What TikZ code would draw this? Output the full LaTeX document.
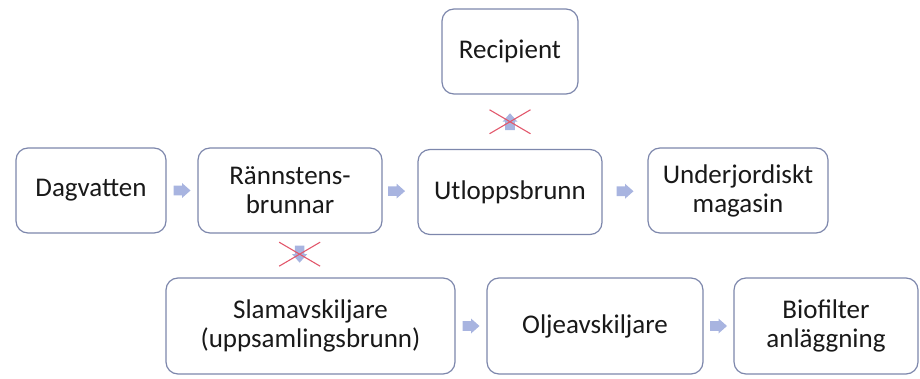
\documentclass[tikz,border=0pt]{standalone}
\usepackage{fontspec}
\setmainfont{Carlito}
\usetikzlibrary{calc}
\definecolor{boxline}{RGB}{125,135,172}
\definecolor{arrowfill}{RGB}{168,180,224}
\definecolor{crossred}{RGB}{226,88,108}
\definecolor{txt}{RGB}{25,25,25}
\tikzset{
  flowbox/.style={draw=boxline, line width=1.2pt, rounded corners=12pt, fill=white,
    text=txt, align=center, inner sep=0pt, minimum height=85pt,
    font=\fontsize{27}{29}\selectfont},
  lowbox/.style={flowbox, minimum height=96pt},
  blockarrow/.style={fill=arrowfill},
  crossline/.style={draw=crossred, line width=1.1pt}
}
\newcommand\flowarrow[2]{%
  \fill[blockarrow, shift={(#1)}, rotate=#2]
    (-8.5,-4.8) -- (0,-4.8) -- (0,-7.5) -- (8.5,0) -- (0,7.5) -- (0,4.8) -- (-8.5,4.8) -- cycle;}
\newcommand\crossmark[1]{%
  \draw[crossline] ($(#1)+(-20.5,-12)$) -- ($(#1)+(20.5,12)$);
  \draw[crossline] ($(#1)+(-20.5,12)$) -- ($(#1)+(20.5,-12)$);}
\begin{document}
\begin{tikzpicture}[x=1pt,y=-1pt]
\useasboundingbox (0,0) rectangle (920,379);
% top
\node[flowbox, minimum width=136pt] (rec) at (510,51.5) {Recipient};
% middle row
\node[flowbox, minimum width=150pt] (dag) at (91,190.5) {Dagvatten};
\node[flowbox, minimum width=184pt] (ran) at (290,190.5) {Rännstens-\\brunnar};
\node[flowbox, minimum width=184pt] (utl) at (510,192) {Utloppsbrunn};
\node[flowbox, minimum width=180pt] (und) at (738,190.5) {Underjordiskt\\magasin};
% bottom row
\node[lowbox, minimum width=289pt] (slam) at (310.5,326) {Slamavskiljare\\(uppsamlingsbrunn)};
\node[lowbox, minimum width=216pt] (olje) at (595,326) {Oljeavskiljare};
\node[lowbox, minimum width=184pt] (bio) at (826,326) {Biofilter\\anläggning};
% arrow positions
\coordinate (a1) at ($(dag.east)!0.5!(ran.west)$);
\coordinate (a2) at ($(ran.east)!0.4!(utl.west)$);
\coordinate (a3) at ($(utl.east)!0.5!(und.west)$);
\coordinate (a4) at ($(slam.east)!0.5!(olje.west)$);
\coordinate (a5) at ($(olje.east)!0.5!(bio.west)$);
\coordinate (a6) at ($(ran.south)!0.47!(slam.north)$);
\coordinate (a7) at ($(utl.north)!0.5!(rec.south)$);
\flowarrow{a1}{0}
\flowarrow{a2}{0}
\flowarrow{a3}{0}
\flowarrow{a4}{0}
\flowarrow{a5}{0}
\flowarrow{a6}{-90}
\flowarrow{a7}{90}
\crossmark{a6}
\crossmark{a7}
\end{tikzpicture}
\end{document}
